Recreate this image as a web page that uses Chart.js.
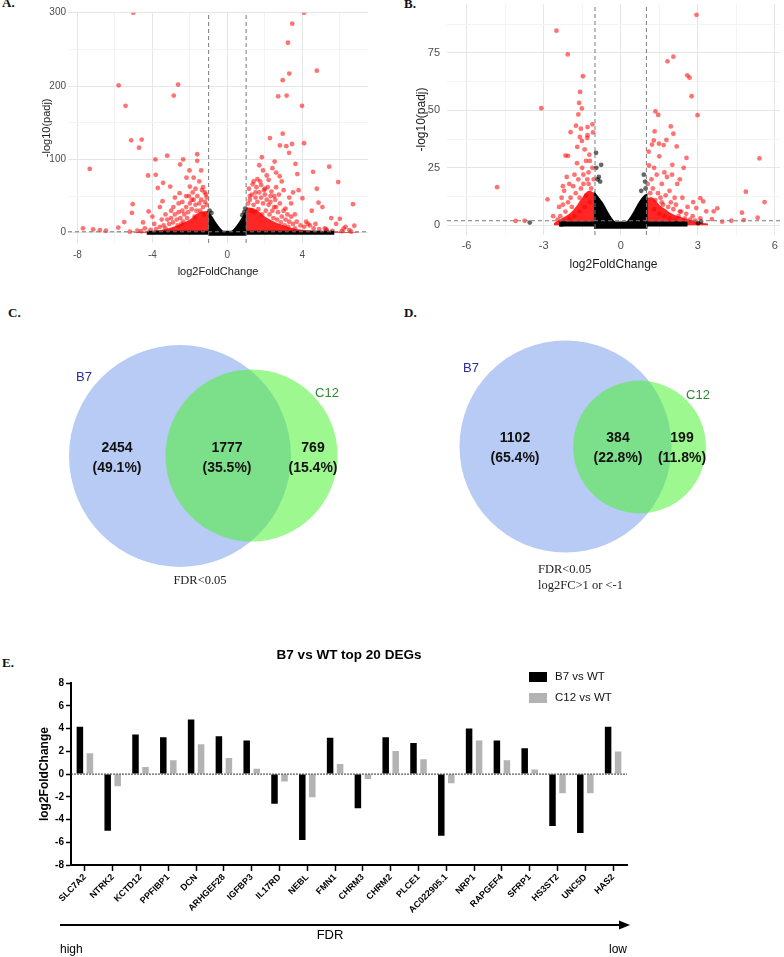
<!DOCTYPE html>
<html lang="en">
<head>
  <meta charset="UTF-8">
  <title>B7 / C12 DEG figure</title>
  <script src="https://cdn.jsdelivr.net/npm/chart.js"></script>
  <style>
    body {
      margin: 0;
      width: 784px;
      height: 957px;
      position: relative;
      overflow: hidden;
      background: #fff;
      font-family: "Liberation Sans", Arial, sans-serif;
    }
    canvas { position: absolute; }
    .tag {
      position: absolute;
      font-family: "Liberation Serif", "Times New Roman", serif;
      font-weight: bold;
      font-size: 13px;
      line-height: 13px;
      color: #111;
    }
  </style>
</head>
<body>
  <div class="tag" style="left:2px;top:-4px">A.</div>
  <div class="tag" style="left:404px;top:-3px">B.</div>
  <div class="tag" style="left:8px;top:306px">C.</div>
  <div class="tag" style="left:404px;top:306px">D.</div>
  <div class="tag" style="left:2px;top:656px">E.</div>

  <canvas id="volcanoA" width="392" height="280" style="left:0;top:0"></canvas>
  <canvas id="volcanoB" width="392" height="280" style="left:392px;top:0"></canvas>
  <canvas id="vennC" width="392" height="320" style="left:0;top:280px"></canvas>
  <canvas id="vennD" width="392" height="320" style="left:392px;top:280px"></canvas>
  <canvas id="barE" width="784" height="357" style="left:0;top:600px"></canvas>

  <script>
    // ---- panel A volcano (B7 vs WT) ----
    const aRed = [
      [-5.02,300],[4.09,300],[3.46,285],[3.23,259],[4.77,221],[3.30,217],[2.95,208],[-2.63,202],[-5.80,201],
      [2.71,186],[3.16,187],[-2.86,187],[3.98,173],[-5.43,173],[2.95,135],[2.27,129],[-4.57,127],[-5.13,126],
      [3.45,121],[3.14,118],[2.80,119],[4.09,122],[-4.71,116],[3.29,109],[-1.61,107],[-3.21,105],[-2.36,100],
      [-3.84,100],[-1.61,98],[1.84,103],[2.52,97],[3.63,94],[5.43,90],[-7.34,87],[-2.52,93],[-2.02,85],[4.57,83],
      [-4.23,78],[-3.82,79],[2.79,77],[3.73,80],[5.91,69],[-2.18,75],[4.77,60],[6.70,39],[-5.05,39],[-5.09,27],
      [4.0,47],[4.86,41],[5.07,35],[-4.2,29],[-3.46,43],[-3.71,61],[-3.43,68],[-2.55,54],[5.54,20],[6.0,19],
      [6.77,9.5],[-5.5,14.5],[-5.82,7],[-7.7,6],[-7.16,4.5],[-6.8,3.6],[-6.48,2.7],[6.5,3.6],[6.2,5.5],[5.27,4.5],
      [-3.05,63],[-2.88,35],[-2.0,63],[1.4,70],[1.6,73],[1.8,65],[2.0,60],[2.2,72],[1.5,55],[2.3,50],[2.6,62],
      [1.2,50],[3.0,58],[3.3,48],[3.5,55],[3.8,58],[3.1,33],[3.6,25],[4.2,15],[4.4,10],[4.7,12],[5.2,6],
      [-1.5,70],[-1.7,60],[-1.2,55],[-2.2,50],[-1.9,45],[-2.6,40],[-3.0,30],[-3.3,25],[-1.4,85],[-1.8,75],
      [-2.4,30],[-3.5,18],[-3.9,12],[-4.4,6],[-4.8,3],[-5.2,1.5],[1.9,85],[2.1,78],[2.4,88],[1.7,92],[2.6,82],
      [2.9,70],[3.4,40],[2.5,35],[4.5,30],[5.8,12],[6.3,8],[-1.3,62],[-1.1,48],[-2.8,48],[-3.6,35],[-4.0,22],[-4.5,14],
      [-1.1,38],[-1.2,42],[-1.3,35],[-1.4,45],[-1.5,40],[-1.6,50],[-1.7,38],[-1.8,45],[-1.9,32],[-2.0,40],[-2.1,28],
      [-2.2,35],[-2.3,25],[-2.4,42],[-2.5,20],[-2.6,28],[-2.7,18],[-2.8,25],[-2.9,14],[-3.0,20],[-3.1,12],[-3.2,18],
      [-3.4,10],[-3.6,8],[-3.8,5],[-1.15,52],[-1.35,58],[-1.65,30],[-1.85,55],[-2.05,50],[-2.35,15],[-2.65,10],
      [-1.25,25],[-1.45,30],[-1.75,22],[-2.15,20],[-2.45,12],[-3.3,6],[-4.1,4],[-4.6,2],
      [1.1,40],[1.2,45],[1.3,52],[1.4,38],[1.5,48],[1.6,42],[1.7,55],[1.8,48],[1.9,40],[2.0,52],[2.1,45],[2.2,38],
      [2.3,42],[2.4,30],[2.5,50],[2.6,35],[2.7,28],[2.8,40],[2.9,22],[3.0,30],[3.1,18],[3.2,25],[3.3,15],[3.4,22],
      [3.5,12],[3.7,15],[3.9,10],[4.1,8],[4.3,12],[4.6,6],[4.9,5],[5.3,3],[5.6,2.5],[6.1,2],[6.6,1.5],[1.15,60],
      [1.35,66],[1.55,62],[1.75,70],[1.95,58],[2.15,62],[2.35,56],[2.55,45],[2.75,52],[1.25,30],[1.45,28],[1.65,32],
      [1.85,25],[2.05,30],[2.25,25],[2.45,20],[2.65,18],[2.85,14],[3.05,10],[3.25,8],[3.6,6]
    ];
    const aBlack = [[-0.95,30],[-0.85,27],[0.9,28],[0.95,33],[0.8,24]];
    const aVx = [-1.02,-0.8,-0.6,-0.4,-0.2,0,0.2,0.4,0.6,0.8,1.02];
    const aVy = [30,22,14,7,2,-0.5,2,7,14,22,33];
    const aCoreLx = [-5,-4.5,-4,-3.5,-3,-2.5,-2,-1.5,-1];
    const aCoreLy = [0.8,1.5,2.5,4,7,12,18,28,30];
    const aCoreRx = [1,1.5,2,2.5,3,3.5,4,5,6,7];
    const aCoreRy = [35,32,22,15,10,6,4,2.5,1.5,0.8];
    const aBaseX = [-4.3, 5.7];

    // ---- panel B volcano (C12 vs WT) ----
    const bRed = [
      [2.95,91.5],[-2.5,84.6],[-2.06,74.3],[1.82,71.3],[2.05,73.3],[-1.47,64.8],[2.59,65.2],[2.68,64.2],[2.76,56.1],
      [-1.58,58],[-3.09,50.9],[-1.62,53.2],[-1.51,50.8],[1.35,49.5],[1.46,48],[2.99,47.9],[-1.65,48.2],[-1.74,43.3],
      [-1.29,42.7],[-1.1,43.9],[-1.08,40.4],[-1.95,40.5],[1.95,43],[2.05,39.8],[1.32,40.8],[-1.29,39.2],[-1.59,38.4],
      [-1.51,36.7],[1.29,36.9],[1.78,37.1],[1.49,35.5],[1.67,34.9],[2.18,34.3],[1.22,35.1],[-1.69,34.1],[-2.05,30.2],
      [-2.15,30.3],[-1.22,30.7],[2.01,26.3],[2.56,29.3],[5.40,29.1],[1.09,32],[-4.81,16.6],[-2.85,11.3],[-2.63,4],
      [-4.09,1.9],[-3.74,2],[2.82,10.1],[3.1,11.8],[3.21,10.4],[5.6,10.1],[4.87,14.6],[2.94,7.5],[3.33,6.1],
      [3.76,7.4],[3.62,6.1],[4.72,5.5],[5.33,3.3],[4.79,2.3],[3.55,2.7],[3.95,1.6],[4.31,2],
      [-1.5,25],[-1.8,22],[-2.0,18],[-2.2,15],[-1.3,20],[-1.6,12],[-1.9,8],[-2.4,8],[-1.2,28],[-1.4,33],[-1.7,27],
      [-2.1,21],[-2.3,12],[1.2,20],[1.4,22],[1.6,18],[1.9,15],[2.2,18],[2.4,12],[2.6,8],[2.8,4],[1.3,25],[1.5,30],
      [1.8,21],[2.0,22],[1.6,10],[2.3,6],[2.5,3],[1.1,26],[-1.35,28],[-1.45,22],[-1.1,25],[-1.25,18],[-2.25,17],
      [-1.55,42],[-1.3,38],[1.7,23],[2.1,12],[2.3,20],[2.45,25],
      [-1.05,20],[-1.15,16],[-1.25,23],[-1.35,13],[-1.45,18],[-1.55,16],[-1.65,20],[-1.75,14],[-1.85,17],[-1.95,12],
      [-2.05,10],[-2.15,6],[-2.25,9],[-2.35,4],[-2.45,2.5],[-1.2,10],[-1.4,8],[-1.6,6],[-1.8,4],[-2.0,3],
      [1.05,18],[1.15,14],[1.25,16],[1.35,11],[1.45,14],[1.55,12],[1.65,9],[1.75,13],[1.85,8],[1.95,10],[2.05,7],
      [2.15,9],[2.25,4],[2.35,6],[2.55,5],[2.7,2.5],[2.9,2],[3.1,3],[1.3,7],[1.5,5],[1.7,4],[1.9,3],[2.1,2]
    ];
    const bBlack = [[-0.96,31.5],[-0.76,26.3],[-3.54,1.2],[3.13,1.6],[3.01,0.9],[2.17,0.7],[-2.23,0.9],[-2.29,0.3],
      [-0.9,20],[-0.85,21],[-0.8,19],[0.9,22],[0.95,19],[0.8,15],[-0.95,25],[0.97,16]];
    const bVx = [-1.05,-0.9,-0.7,-0.5,-0.3,-0.1,0,0.1,0.3,0.5,0.7,0.9,1.05];
    const bVy = [15,13,10,6,2.5,0.3,-0.3,0.3,2.5,6,10,13,14];
    const bCoreLx = [-2.6,-2.3,-2,-1.75,-1.5,-1.25,-1.0];
    const bCoreLy = [1,3,5,8,12,15,14];
    const bCoreRx = [1.0,1.25,1.5,1.75,2,2.5,3,3.4];
    const bCoreRy = [12,12,9,7,5,3,1.5,0.8];
    const bBaseX = [-2.4, 2.6];

    // ---- venn counts ----
    const vennCCounts = [2454, 1777, 769];
    const vennCPct = ['(49.1%)', '(35.5%)', '(15.4%)'];
    const vennDCounts = [1102, 384, 199];
    const vennDPct = ['(65.4%)', '(22.8%)', '(11.8%)'];
    const setNames = ['B7', 'C12'];

    // ---- panel E bars ----
    const genes = ['SLC7A2','NTRK2','KCTD12','PPFIBP1','DCN','ARHGEF28','IGFBP3','IL17RD','NEBL','FMN1',
      'CHRM3','CHRM2','PLCE1','AC022905.1','NRP1','RAPGEF4','SFRP1','HS3ST2','UNC5D','HAS2'];
    const b7Fc = [4.16,-4.98,3.48,3.24,4.81,3.33,2.95,-2.62,-5.81,3.19,-3.0,3.24,2.74,-5.42,4.01,2.95,2.27,-4.57,-5.19,4.16];
    const c12Fc = [1.83,-1.08,0.62,1.21,2.63,1.42,0.47,-0.65,-2.03,0.88,-0.44,2.04,1.30,-0.8,2.95,1.21,0.41,-1.68,-1.68,1.98];

    const SANS = "'Liberation Sans', Arial, sans-serif";
    const SERIF = "'Liberation Serif', 'Times New Roman', serif";
    Chart.defaults.font.family = SANS;

    const pts = a => a.map(p => ({ x: p[0], y: p[1] }));
    const xy = (xs, ys) => xs.map((x, i) => ({ x: x, y: ys[i] }));
    const area = (xs, ys, color, base) => ({
      type: 'line', data: xy(xs, ys), backgroundColor: color, borderWidth: 0,
      pointRadius: 0, tension: 0.35, fill: { value: base }
    });
    const dashed = data => ({
      type: 'line', data: data, borderColor: '#7a7a7a', borderWidth: 1, borderDash: [4, 3],
      pointRadius: 0, fill: false
    });
    const noPad = s => { s.paddingTop = 0; s.paddingBottom = 0; s.paddingLeft = 0; s.paddingRight = 0; };

    function volcano(id, o) {
      const datasets = [
        dashed([{ x: -o.fc, y: o.ymin }, { x: -o.fc, y: o.ymax }]),
        dashed([{ x: o.fc, y: o.ymin }, { x: o.fc, y: o.ymax }]),
        dashed([{ x: o.xmin, y: o.cut }, { x: o.xmax, y: o.cut }]),
        { data: pts(o.black), backgroundColor: 'rgba(0,0,0,0.6)', pointRadius: o.r, borderWidth: 0 },
        area(o.vx, o.vy, '#000', o.vbase),
        { type: 'line', data: o.base.map(x => ({ x: x, y: o.baseY })), borderColor: '#000',
          borderWidth: o.baseW, pointRadius: 0, fill: false },
        { data: pts(o.red), backgroundColor: 'rgba(255,0,0,0.55)', pointRadius: o.r, borderWidth: 0 },
        area(o.coreL[0], o.coreL[1], 'rgba(255,0,0,0.85)', 0),
        area(o.coreR[0], o.coreR[1], 'rgba(255,0,0,0.85)', 0)
      ];
      const gridColor = major => ctx => major.includes(ctx.tick.value) ? '#e6e6e6' : '#f3f3f3';
      new Chart(document.getElementById(id), {
        type: 'scatter',
        data: { datasets: datasets },
        options: {
          responsive: false,
          animation: false,
          layout: { padding: { top: o.padTop, right: o.padRight, left: 0, bottom: 0 } },
          plugins: { legend: { display: false }, tooltip: { enabled: false } },
          scales: {
            x: {
              type: 'linear', min: o.xmin, max: o.xmax,
              afterBuildTicks: s => { s.ticks = o.xticks.map(v => ({ value: v })); },
              afterFit: s => { s.height = o.xh; noPad(s); },
              grid: { color: gridColor(o.xmajor), drawTicks: false },
              border: { display: false },
              ticks: { autoSkip: false, maxRotation: 0, color: '#4d4d4d', font: { size: o.fs }, padding: o.xpad,
                callback: v => o.xmajor.includes(v) ? String(v) : '' },
              title: { display: true, text: 'log2FoldChange', color: '#1a1a1a', font: { size: o.ts },
                padding: { top: 0, bottom: o.xtb } }
            },
            y: {
              min: o.ymin, max: o.ymax,
              afterBuildTicks: s => { s.ticks = o.yticks.map(v => ({ value: v })); },
              afterFit: s => { s.width = o.yw; noPad(s); },
              grid: { color: gridColor(o.ymajor), drawTicks: false },
              border: { display: false },
              ticks: { autoSkip: false, color: '#4d4d4d', font: { size: o.fs }, padding: o.ypad,
                callback: v => o.ymajor.includes(v) ? String(v) : '' },
              title: { display: true, text: '-log10(padj)', color: '#1a1a1a', font: { size: o.ts },
                padding: { top: o.ytt, bottom: 0 } }
            }
          }
        }
      });
    }

    volcano('volcanoA', {
      red: aRed, black: aBlack, vx: aVx, vy: aVy, vbase: -4,
      coreL: [aCoreLx, aCoreLy], coreR: [aCoreRx, aCoreRy],
      base: aBaseX, baseY: 0, baseW: 4, r: 2.4,
      fc: 1, cut: 1.3,
      xmin: -8.5, xmax: 7.5, ymin: -14, ymax: 300,
      xticks: [-8,-6,-4,-2,0,2,4,6], xmajor: [-8,-4,0,4],
      yticks: [0,50,100,150,200,250,300], ymajor: [0,100,200,300],
      padTop: 12.7, padRight: 24, xh: 37, yw: 68,
      fs: 10, ts: 11, xpad: 6, ypad: 2, xtb: 1.4, ytt: 40
    });

    volcano('volcanoB', {
      red: bRed, black: bBlack, vx: bVx, vy: bVy, vbase: -1.5,
      coreL: [bCoreLx, bCoreLy], coreR: [bCoreRx, bCoreRy],
      base: bBaseX, baseY: 0.6, baseW: 5, r: 2.4,
      fc: 1, cut: 2,
      xmin: -6.76, xmax: 6.2, ymin: -4.2, ymax: 96.2,
      xticks: [-6,-4.5,-3,-1.5,0,1.5,3,4.5,6], xmajor: [-6,-3,0,3,6],
      yticks: [0,12.5,25,37.5,50,62.5,75,87.5], ymajor: [0,25,50,75],
      padTop: 3, padRight: 0, xh: 45, yw: 55,
      fs: 11, ts: 12, xpad: 4, ypad: 7, xtb: 7.8, ytt: 22.5
    });

    // ---- venn diagrams drawn as bubbles in a pixel-sized linear space ----
    const vennText = {
      id: 'vennText',
      afterDatasetsDraw(chart, args, opts) {
        const { ctx, scales: { x, y } } = chart;
        ctx.save();
        ctx.textBaseline = 'middle';
        opts.items.forEach(it => {
          ctx.font = it.font;
          ctx.fillStyle = it.color || '#111';
          ctx.textAlign = it.align || 'center';
          ctx.fillText(it.text, x.getPixelForValue(it.x), y.getPixelForValue(it.y));
        });
        ctx.restore();
      }
    };

    function venn(id, counts, pct, L) {
      const totA = counts[0] + counts[1];
      const totB = counts[1] + counts[2];
      const num = "bold 14px " + SANS;
      const items = [];
      counts.forEach((c, i) => {
        items.push({ text: String(c), x: L.tx[i], y: L.ty, font: num });
        items.push({ text: pct[i], x: L.tx[i], y: L.ty + 20, font: num });
      });
      items.push({ text: setNames[0], x: L.nameA[0], y: L.nameA[1], font: "13px " + SANS, color: '#2b2ba3' });
      items.push({ text: setNames[1], x: L.nameB[0], y: L.nameB[1], font: "13px " + SANS, color: '#2d8a2d' });
      L.notes.forEach(n => items.push({ text: n.t, x: n.x, y: n.y, font: "12.5px " + SERIF, color: '#222', align: n.a }));
      new Chart(document.getElementById(id), {
        type: 'bubble',
        data: {
          datasets: [
            { data: [{ x: L.cB[0], y: L.cB[1], r: L.k * Math.sqrt(totB) }], backgroundColor: 'rgba(77,242,51,0.55)',
              borderWidth: 0, clip: false },
            { data: [{ x: L.cA[0], y: L.cA[1], r: L.k * Math.sqrt(totA) }], backgroundColor: 'rgb(183,203,245)',
              borderWidth: 0, clip: false }
          ]
        },
        options: {
          responsive: false,
          animation: false,
          layout: { padding: 0, autoPadding: false },
          plugins: { legend: { display: false }, tooltip: { enabled: false }, vennText: { items: items } },
          scales: {
            x: { display: false, min: 0, max: 392 },
            y: { display: false, min: 0, max: 320, reverse: true }
          }
        },
        plugins: [vennText]
      });
    }

    venn('vennC', vennCCounts, vennCPct, {
      k: 1.706, cA: [180, 176], cB: [251.5, 175.5],
      tx: [117, 227, 313], ty: 168, nameA: [84, 97], nameB: [327, 113],
      notes: [{ t: 'FDR<0.05', x: 200, y: 301, a: 'center' }]
    });
    venn('vennD', vennDCounts, vennDPct, {
      k: 2.75, cA: [173.5, 166.5], cB: [247.5, 167],
      tx: [123, 226, 290], ty: 158, nameA: [79, 88], nameB: [306, 115],
      notes: [{ t: 'FDR<0.05', x: 146, y: 290, a: 'left' }, { t: 'log2FC>1 or <-1', x: 146, y: 306, a: 'left' }]
    });

    // ---- panel E: zero line, legend, FDR arrow ----
    const barExtras = {
      id: 'barExtras',
      afterDatasetsDraw(chart) {
        const { ctx, chartArea: ca, scales: { y } } = chart;
        const y0 = y.getPixelForValue(0);
        ctx.save();
        ctx.strokeStyle = '#333';
        ctx.lineWidth = 1;
        ctx.setLineDash([2, 1]);
        ctx.beginPath();
        ctx.moveTo(ca.left, y0);
        ctx.lineTo(ca.right, y0);
        ctx.stroke();
        ctx.restore();
      },
      afterDraw(chart) {
        const { ctx, chartArea: ca } = chart;
        ctx.save();
        // legend
        chart.data.datasets.forEach((ds, i) => {
          const ly = 77 + i * 21;
          ctx.fillStyle = ds.backgroundColor;
          ctx.fillRect(ca.right - 98, ly - 5, 18, 10);
          ctx.fillStyle = '#111';
          ctx.font = "11.5px " + SANS;
          ctx.textAlign = 'left';
          ctx.textBaseline = 'middle';
          ctx.fillText(ds.label, ca.right - 72, ly);
        });
        // FDR arrow
        const ay = 325;
        ctx.strokeStyle = '#000';
        ctx.fillStyle = '#000';
        ctx.lineWidth = 2;
        ctx.beginPath();
        ctx.moveTo(60, ay);
        ctx.lineTo(620, ay);
        ctx.stroke();
        ctx.beginPath();
        ctx.moveTo(630, ay);
        ctx.lineTo(619, ay - 4.5);
        ctx.lineTo(619, ay + 4.5);
        ctx.closePath();
        ctx.fill();
        ctx.font = "13px " + SANS;
        ctx.textBaseline = 'middle';
        ctx.textAlign = 'center';
        ctx.fillText('FDR', 330, 335);
        ctx.font = "12px " + SANS;
        ctx.textAlign = 'left';
        ctx.fillText('high', 60, 350);
        ctx.textAlign = 'right';
        ctx.fillText('low', 627, 350);
        ctx.restore();
      }
    };

    new Chart(document.getElementById('barE'), {
      type: 'bar',
      data: {
        labels: genes,
        datasets: [
          { label: 'B7 vs WT', data: b7Fc, backgroundColor: '#000000', categoryPercentage: 0.72, barPercentage: 0.65 },
          { label: 'C12 vs WT', data: c12Fc, backgroundColor: '#b3b3b3', categoryPercentage: 0.72, barPercentage: 0.65 }
        ]
      },
      options: {
        responsive: false,
        animation: false,
        layout: { padding: { top: 0, right: 157, left: 0, bottom: 0 } },
        plugins: {
          legend: { display: false },
          tooltip: { enabled: false },
          title: {
            display: true, text: 'B7 vs WT top 20 DEGs', fullSize: false, color: '#000',
            font: { size: 13.5, weight: 'bold' }, padding: { top: 47, bottom: 20 }
          }
        },
        scales: {
          x: {
            grid: { offset: false, drawOnChartArea: false, tickLength: 6, tickColor: '#000', tickWidth: 1.5 },
            border: { color: '#000', width: 2 },
            ticks: { minRotation: 45, maxRotation: 45, autoSkip: false, color: '#000',
              font: { size: 9, weight: 'bold' }, padding: 1 },
            afterFit: s => { s.height = 92; }
          },
          y: {
            min: -8, max: 8,
            ticks: { stepSize: 2, color: '#000', font: { size: 10, weight: 'bold' }, padding: 2 },
            grid: { drawOnChartArea: false, tickLength: 5, tickColor: '#000', tickWidth: 1.5 },
            border: { color: '#000', width: 2 },
            title: { display: true, text: 'log2FoldChange', color: '#000',
              font: { size: 12, weight: 'bold' }, padding: { top: 37, bottom: 0 } },
            afterFit: s => { s.width = 71; }
          }
        }
      },
      plugins: [barExtras]
    });
  </script>
</body>
</html>
